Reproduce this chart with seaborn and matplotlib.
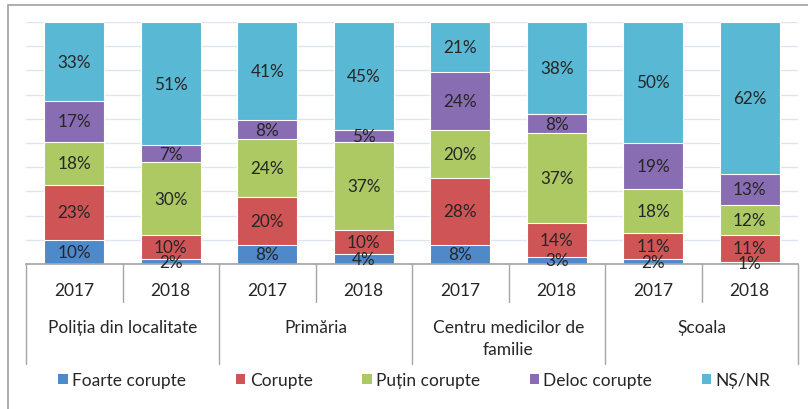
import numpy as np
import pandas as pd
import matplotlib
matplotlib.use("Agg")
import matplotlib.pyplot as plt
import matplotlib.transforms as mtransforms
from matplotlib.patches import Rectangle, Patch
import seaborn as sns

# data (percent)
groups = ["Poliția din localitate", "Primăria", "Centru medicilor de\nfamilie", "Școala"]
years = ["2017", "2018"]
series = ["Foarte corupte", "Corupte", "Puțin corupte", "Deloc corupte", "NȘ/NR"]
foarte = [10, 2, 8, 4, 8, 3, 2, 1]
corupte = [23, 10, 20, 10, 28, 14, 11, 11]
putin = [18, 30, 24, 37, 20, 37, 18, 12]
deloc = [17, 7, 8, 5, 24, 8, 19, 13]
nsnr = [33, 51, 41, 45, 21, 38, 50, 62]

colors = ["#4E89CA", "#CF5456", "#ACC964", "#896DB2", "#59B8D4"]

sns.set_theme(style="white")
plt.rcParams["font.family"] = ["Lato", "Open Sans", "DejaVu Sans"]

keys = [g + " " + y for g in groups for y in years]
vals = np.array([foarte, corupte, putin, deloc, nsnr], dtype=float)
shares = vals / vals.sum(axis=0)  # 100% stacked
cum = np.cumsum(shares, axis=0)

fig = plt.figure(figsize=(8.08, 4.10), dpi=100)
ax = fig.add_axes([26 / 808, 1 - 265 / 410, 772 / 808, 242 / 410])

# draw from top layer down so each shorter bar covers the one behind it
for i in range(len(series) - 1, -1, -1):
    df = pd.DataFrame({"key": keys, "val": cum[i]})
    sns.barplot(data=df, x="key", y="val", order=keys, color=colors[i],
                width=0.62, saturation=1, edgecolor="white", linewidth=0.8,
                ax=ax, zorder=2)

# data labels
for i in range(len(series)):
    for j in range(len(keys)):
        mid = cum[i, j] - shares[i, j] / 2
        ax.text(j, mid, f"{int(vals[i, j])}%", ha="center", va="center",
                fontsize=12.3, color="#262626", zorder=5)

ax.set_xlim(-0.5, len(keys) - 0.5)
ax.set_ylim(0, 1)
ax.set_yticks(np.arange(0.1, 1.01, 0.1))
ax.yaxis.grid(True, color="#DCE6F2", linewidth=1)
ax.set_axisbelow(True)
ax.set_yticklabels([])
ax.tick_params(left=False, bottom=False)
ax.set_xticks([])
ax.set_xlabel("")
ax.set_ylabel("")
for s in ["left", "right", "top"]:
    ax.spines[s].set_visible(False)
ax.spines["bottom"].set_color("#A6A6A6")

# two-level category axis
trans = mtransforms.blended_transform_factory(ax.transData, ax.transAxes)
px = 1 / 242
for j in range(len(keys)):
    ax.text(j, -26 * px, years[j % 2], transform=trans, ha="center", va="center",
            fontsize=12.5, color="#262626", clip_on=False)
for k in range(len(keys) + 1):
    depth = 100 if k % 2 == 0 else 38
    ax.plot([k - 0.5, k - 0.5], [0, -depth * px], transform=trans,
            color="#A6A6A6", linewidth=1, clip_on=False)
for g, name in enumerate(groups):
    ax.text(2 * g + 0.5, -55 * px, name, transform=trans, ha="center", va="top",
            fontsize=12.5, color="#262626", linespacing=1.45, clip_on=False)

handles = [Patch(facecolor=c, edgecolor="none") for c in colors]
fig.legend(handles, series, loc="center", bbox_to_anchor=(0.513, 1 - 381 / 410),
           ncol=5, frameon=False, fontsize=12.5, handlelength=0.55,
           handleheight=0.55, handletextpad=0.25, columnspacing=2.85,
           labelcolor="#262626")

# outer chart border
fig.patches.append(Rectangle((8 / 808, -0.1), 1.2, 1 - 6 / 410 + 0.1,
                             transform=fig.transFigure, fill=False,
                             edgecolor="#A0A0A0", linewidth=1.2))

fig.savefig("out.png", dpi=100)
